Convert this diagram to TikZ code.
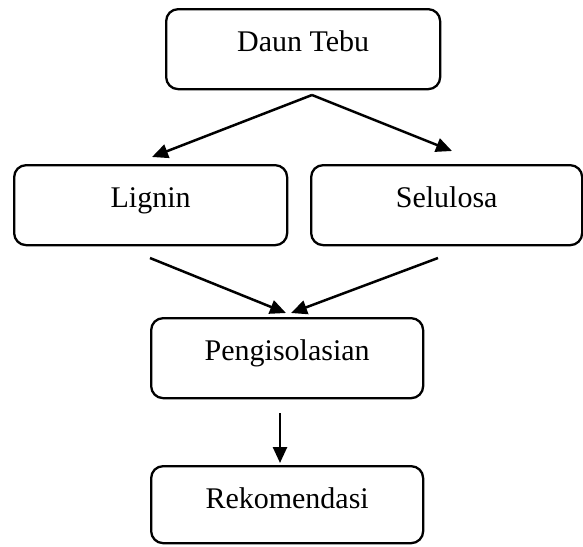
\documentclass[tikz,border=0pt]{standalone}
\usepackage{fontspec}
\setmainfont{Liberation Serif}
\usetikzlibrary{arrows.meta}
\begin{document}
\begin{tikzpicture}[x=1pt,y=-1pt,
  box/.style={draw, line width=2.3pt, rounded corners=12pt, inner sep=0pt,
    text height=42pt, text depth=38pt, anchor=north west,
    font=\fontsize{30}{34}\selectfont},
  arr/.style={line width=2.5pt, -{Triangle[length=16pt,width=14pt]}}]
\useasboundingbox (0,0) rectangle (583,546);
\node[box, minimum width=274pt] (dt) at (165,8) {Daun Tebu};
\node[box, minimum width=273pt] (lig) at (13,164) {Lignin};
\node[box, minimum width=271pt] (sel) at (310,164) {Selulosa};
\node[box, minimum width=272pt] (pen) at (150,317) {Pengisolasian};
\node[box, minimum width=272pt, text depth=35pt] (rek) at (150,465) {Rekomendasi};
\coordinate (split) at (312,95);
\coordinate (ligin) at (152,157);
\coordinate (selin) at (452,151);
\coordinate (ligout) at (150,258);
\coordinate (selout) at (438,258);
\coordinate (penin1) at (286,313);
\coordinate (penin2) at (291,313);
\coordinate (penout) at (280,413);
\coordinate (rekin) at (280,463);
\draw[arr] (split) -- (ligin);
\draw[arr] (split) -- (selin);
\draw[arr] (ligout) -- (penin1);
\draw[arr] (selout) -- (penin2);
\draw[arr] (penout) -- (rekin);
\end{tikzpicture}
\end{document}
